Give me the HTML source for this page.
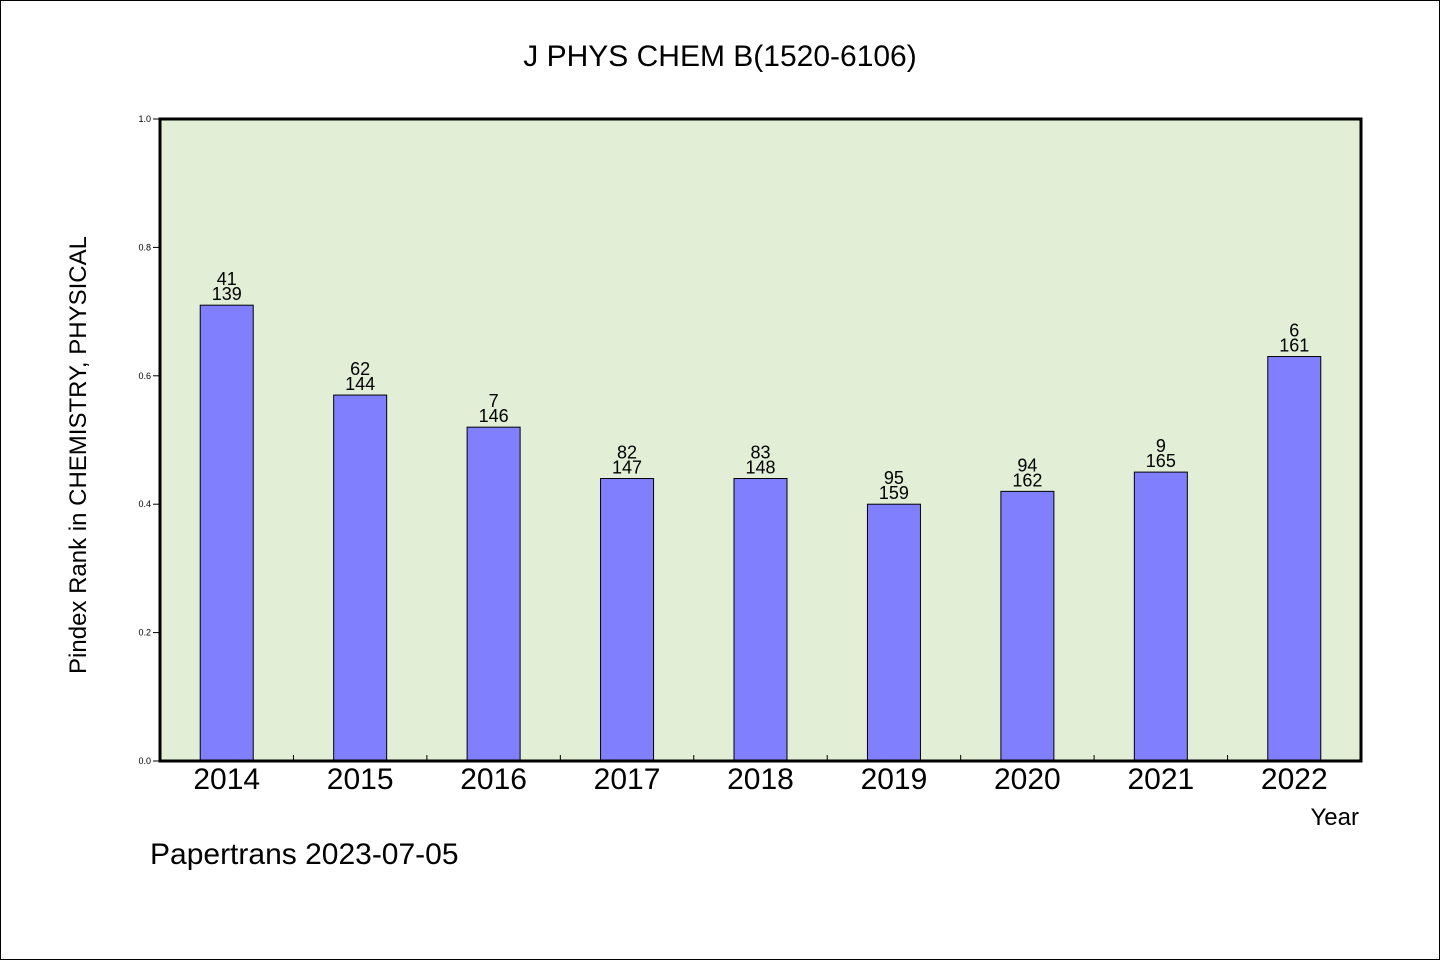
<!DOCTYPE html>
<html><head><meta charset="utf-8"><style>
body{margin:0;background:#fff}
svg text{font-family:"Liberation Sans","WenQuanYi Zen Hei",sans-serif}
</style></head><body>
<svg id="chart" width="1440" height="960" xmlns="http://www.w3.org/2000/svg">
<rect x="0.5" y="0.5" width="1439" height="959" fill="#fff" stroke="#000"/>
<text x="720" y="66" font-size="30" text-anchor="middle" font-family="Liberation Mono, monospace">J PHYS CHEM B(1520-6106)</text>
<rect x="160" y="119" width="1201" height="642" fill="#e2efd6"/>
<g id="marks"></g>
<rect x="160" y="119" width="1201" height="642" fill="none" stroke="#000" stroke-width="3"/>
<text transform="translate(86,455) rotate(-90)" font-size="24" text-anchor="middle" font-family="Liberation Mono, monospace">Pindex Rank in CHEMISTRY, PHYSICAL</text>
<text x="1359" y="825" font-size="24" text-anchor="end" font-family="Liberation Mono, monospace">Year</text>
<text x="150" y="864" font-size="30" font-family="Liberation Mono, monospace">Papertrans 2023-07-05</text>
</svg>
<script>
const categories=["2014","2015","2016","2017","2018","2019","2020","2021","2022"];
const values=[0.71,0.57,0.52,0.44,0.44,0.40,0.42,0.45,0.63];
const rankLabels=["41","62","7","82","83","95","94","9","6"];
const totalLabels=["139","144","146","147","148","159","162","165","161"];
const yTicks=[0,0.2,0.4,0.6,0.8,1.0];
const X0=160,W=1201,Y0=761,H=642;
const band=W/categories.length;
const xs=i=>X0+band*(i+0.5);
const ys=v=>Y0-v*H;
const NS="http://www.w3.org/2000/svg";
const g=document.getElementById('marks');
function mk(t,a,txt){const e=document.createElementNS(NS,t);for(const k in a)e.setAttribute(k,a[k]);if(txt!=null)e.textContent=txt;g.appendChild(e);return e;}
yTicks.forEach(v=>{
 const l=mk('line',{x1:153,x2:160,y1:ys(v),y2:ys(v),stroke:'#000'});
 
 
 const t=mk('text',{x:151,y:ys(v)+3,'font-size':9,'text-anchor':'end'},v.toFixed(1));
 
 
});
for(let i=1;i<categories.length;i++){
 const l=mk('line',{x1:X0+band*i,x2:X0+band*i,y1:Y0,y2:Y0-6,stroke:'#000'});
 
 
}
categories.forEach((c,i)=>{
 const cx=xs(i),bw=53;
 const r=mk('rect',{x:cx-bw/2,y:ys(values[i]),width:bw,height:Y0-ys(values[i]),fill:'#8080ff',stroke:'#000','stroke-width':1});
 
 
 const t1=mk('text',{x:cx,y:ys(values[i])-20,'font-size':18,'text-anchor':'middle'},rankLabels[i]);
 
 
 const t2=mk('text',{x:cx,y:ys(values[i])-5,'font-size':18,'text-anchor':'middle'},totalLabels[i]);
 
 
 const xl=mk('text',{x:cx,y:789,'font-size':30,'text-anchor':'middle'},c);
 
 
});
</script>
</body></html>
